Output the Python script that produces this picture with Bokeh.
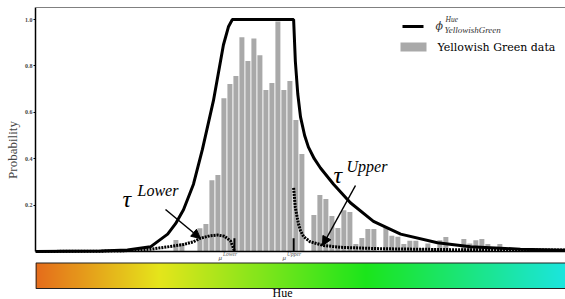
import colorsys
import numpy as np
from bokeh.plotting import figure
from bokeh.models import Range1d, Arrow, NormalHead, Span, FixedTicker, PrintfTickFormatter
from bokeh.core.properties import value
from bokeh.embed import file_html
from bokeh.resources import INLINE

# ---------------- data ----------------
bin_first_hue = 64.8
bin_step = 1.743
bar_heights = [0.05, 0.037, 0.0, 0.0, 0.10, 0.118, 0.307, 0.33, 0.661, 0.722,
               0.756, 0.924, 0.821, 0.918, 0.846, 0.696, 0.726, 0.991, 0.696, 0.735,
               0.567, 0.42, 0.0, 0.157, 0.243, 0.226, 0.153, 0.101, 0.178, 0.17,
               0.032, 0.058, 0.097, 0.097, 0.0, 0.105, 0.068, 0.064, 0.032, 0.046,
               0.046, 0.015, 0.034, 0.015, 0.048, 0.062, 0.0, 0.0, 0.054, 0.034,
               0.049, 0.054, 0.032, 0.0, 0.032]
bar_hues = [bin_first_hue + i * bin_step for i in range(len(bar_heights))]

phi_hue = [24.0, 42.9, 50.7, 57.4, 62.4, 64.7, 67.0, 69.9, 72.5, 75.7, 78.6, 80.1, 81.2,
           99.0, 99.5, 100.2, 101.0, 102.2, 103.3, 105.0, 106.8, 110.6, 115.5, 122.2, 130.1,
           140.8, 150.4, 164.9, 178.0]
phi_prob = [0.0, 0.002, 0.006, 0.02, 0.075, 0.12, 0.18, 0.29, 0.44, 0.65, 0.89, 0.97, 1.0,
            1.0, 0.82, 0.68, 0.58, 0.50, 0.45, 0.40, 0.36, 0.29, 0.21, 0.13, 0.075,
            0.038, 0.02, 0.01, 0.005]

tau_lower_hue = [24.0, 48.7, 57.4, 62.4, 67.0, 69.9, 71.9, 74.8, 76.9, 78.9, 80.7, 81.5, 81.8]
tau_lower_prob = [0.0, 0.002, 0.01, 0.02, 0.03, 0.042, 0.057, 0.068, 0.071, 0.066, 0.045, 0.015, 0.0]

tau_upper_hue = [99.0, 99.5, 100.4, 101.0, 101.9, 103.8, 107.7, 112.6, 124.2, 144.6, 178.0]
tau_upper_prob = [0.274, 0.19, 0.12, 0.09, 0.064, 0.042, 0.026, 0.018, 0.012, 0.008, 0.006]

mu_hues = [81.8, 99.0]
mu_height = 0.057

y_ticks = [0.2, 0.4, 0.6, 0.8, 1.0]
hue_min = 24.0

# ---------------- layout helpers (page pixel -> data) ----------------
W, H = 565, 299
FRAME_L, FRAME_R = 35, W
PX_PER_DEG = 3.4416
BASE_PX, PX_PER_UNIT = 251, 232
hue_max = hue_min + (FRAME_R - FRAME_L) / PX_PER_DEG

def at(xp, yp):
    return hue_min + (xp - FRAME_L) / PX_PER_DEG, (BASE_PX - yp) / PX_PER_UNIT

y_top = BASE_PX / PX_PER_UNIT
y_bot = (BASE_PX - H) / PX_PER_UNIT

p = figure(width=W, height=H, output_backend="svg", toolbar_location=None,
           x_range=Range1d(hue_min, hue_max), y_range=Range1d(y_bot, y_top),
           min_border_left=FRAME_L, min_border_right=0, min_border_top=0, min_border_bottom=0)
p.outline_line_color = None
p.xgrid.visible = False
p.ygrid.visible = False
p.xaxis.visible = False
p.background_fill_color = "white"

serif = "Liberation Serif"
serif2 = "DejaVu Serif"
top_border = at(0, 7)[1]
ya = p.yaxis[0]
ya.ticker = FixedTicker(ticks=y_ticks)
ya.formatter = PrintfTickFormatter(format="%.1f")
ya.bounds = (0, top_border)
ya.axis_line_color = "black"
ya.axis_line_width = 1.5
ya.major_tick_out = 2
ya.major_tick_in = 0
ya.minor_tick_out = 0
ya.minor_tick_in = 0
ya.minor_tick_line_color = None
ya.major_label_text_font = serif
ya.major_label_text_font_size = "6px"
ya.major_label_text_font_style = "bold"
ya.major_label_text_color = "#444444"
ya.major_label_standoff = 1
ya.axis_label = "Probability"
ya.axis_label_text_font = serif
ya.axis_label_text_font_size = "13px"
ya.axis_label_text_font_style = "normal"
ya.axis_label_standoff = 2

# top border
p.add_layout(Span(location=top_border, dimension="width", line_color="#808080", line_width=1))

# bars
bw = 5 / PX_PER_DEG
p.quad(left=[h - bw / 2 for h in bar_hues], right=[h + bw / 2 for h in bar_hues],
       bottom=0, top=bar_heights, fill_color="#a9a9a9", line_color=None)

# curves
p.line(phi_hue, phi_prob, line_color="black", line_width=3)
p.line(tau_lower_hue, tau_lower_prob, line_color="black", line_width=3, line_dash="2 1")
p.line(tau_upper_hue, tau_upper_prob, line_color="black", line_width=3, line_dash="2 1")
p.segment(x0=mu_hues, y0=0, x1=mu_hues, y1=mu_height, line_color="black", line_width=2)
p.line([hue_min, hue_max], [0, 0], line_color="black", line_width=1.5)

# colour bar (hue gradient image)
cb_top = at(0, 262.5)[1]
cb_bot = at(0, 288)[1]
n = 530
img = np.zeros((1, n), dtype=np.uint32)
view = img.view(dtype=np.uint8).reshape((1, n, 4))
for i in range(n):
    hh = (hue_min + (hue_max - hue_min) * (i + 0.5) / n) / 360.0
    r, g, b = colorsys.hsv_to_rgb(hh, 0.88, 0.9)
    view[0, i] = [int(r * 255), int(g * 255), int(b * 255), 255]
p.image_rgba(image=[img], x=hue_min, y=cb_bot, dw=hue_max - hue_min, dh=cb_top - cb_bot)
p.quad(left=[hue_min + 0.15], right=[hue_max + 1], bottom=[cb_bot], top=[cb_top],
       fill_color=None, line_color="#222222", line_width=1.2)

def txt(xp, yp, s, size, style="normal", color="black", align="left", baseline="middle",
        font=serif):
    x, y = at(xp, yp)
    p.text(x=[x], y=[y], text=[s], text_font=value(font), text_font_size=size,
           text_font_style=style, text_color=color, text_align=align,
           text_baseline=baseline)

# Hue label
txt(282, 292, "Hue", "12px", align="center")

# mu labels
for xp, lab in [(218, "Lower"), (282, "Upper")]:
    txt(xp, 257.5, "\u03bc", "7px", style="italic", color="#555555")
    txt(xp + 4.5, 253.5, lab, "5.5px", style="italic", color="#555555")

# tau annotations
txt(122, 198, "\u03c4", "24px", style="italic")
txt(137, 190, "Lower", "16px", style="italic")
txt(333, 174, "\u03c4", "24px", style="italic")
txt(346, 166, "Upper", "16px", style="italic")

x0, y0 = at(165, 209); x1, y1 = at(200, 238)
p.add_layout(Arrow(end=NormalHead(size=9, fill_color="black", line_color="black"),
                   x_start=x0, y_start=y0, x_end=x1, y_end=y1, line_width=1.5, line_color="black"))
x0, y0 = at(355, 185); x1, y1 = at(322, 245)
p.add_layout(Arrow(end=NormalHead(size=9, fill_color="black", line_color="black"),
                   x_start=x0, y_start=y0, x_end=x1, y_end=y1, line_width=1.5, line_color="black"))

# legend (manual)
lx0, ly = at(402, 26); lx1, _ = at(423, 26)
p.line([lx0, lx1], [ly, ly], line_color="black", line_width=3)
txt(435, 26, "\u03d5", "11px", style="italic", font=serif2, color="#333333")
txt(445, 19, "Hue", "7.5px", style="italic", color="#333333")
txt(444, 29.5, "YellowishGreen", "9px", style="italic", color="#333333")
qx0, qy0 = at(400, 51); qx1, qy1 = at(426, 42)
p.quad(left=[qx0], right=[qx1], bottom=[qy0], top=[qy1], fill_color="#a9a9a9", line_color=None)
txt(437, 46.5, "Yellowish Green data", "11px", font=serif2)

open("out.html", "w").write(file_html(p, INLINE))
